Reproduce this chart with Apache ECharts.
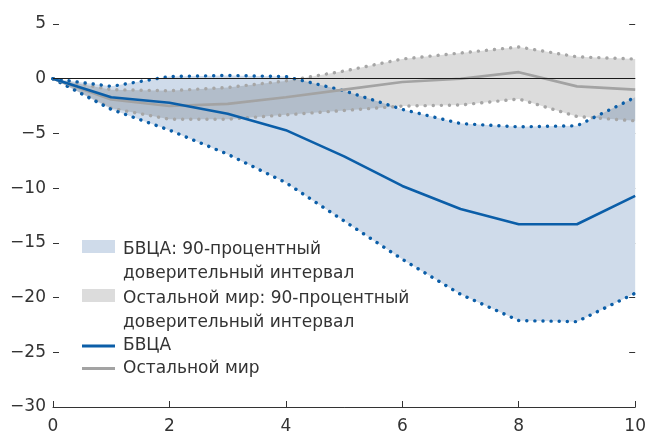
<!DOCTYPE html>
<html>
<head>
<meta charset="utf-8">
<script src="https://cdn.jsdelivr.net/npm/echarts@6/dist/echarts.min.js"></script>
<style>
html,body{margin:0;padding:0;background:#fff;}
#chart{width:649px;height:435px;}
</style>
</head>
<body>
<div id="chart"></div>
<script>
// ---- data ----
const steps = [0, 1, 2, 3, 4, 5, 6, 7, 8, 9, 10];
const usMid   = [0, -1.7, -2.2, -3.2, -4.7, -7.1, -9.8, -11.9, -13.3, -13.3, -10.7];
const usUpper = [0, -0.7, 0.2, 0.3, 0.2, -1.1, -2.8, -4.1, -4.4, -4.3, -1.7];
const usLower = [0, -2.8, -4.7, -6.9, -9.5, -13.0, -16.5, -19.7, -22.1, -22.2, -19.6];
const rowMid   = [0, -1.9, -2.5, -2.3, -1.7, -1.0, -0.3, 0.0, 0.6, -0.7, -1.0];
const rowUpper = [0, -1.0, -1.1, -0.8, -0.2, 0.7, 1.8, 2.35, 2.9, 2.0, 1.8];
const rowLower = [0, -2.7, -3.7, -3.7, -3.3, -2.9, -2.5, -2.4, -1.85, -3.45, -3.85];
const yTicks = [-30, -25, -20, -15, -10, -5, 0, 5];
const names = {
  usBand: 'БВЦА: 90-процентный\nдоверительный интервал',
  rowBand: 'Остальной мир: 90-процентный\nдоверительный интервал',
  usLine: 'БВЦА',
  rowLine: 'Остальной мир'
};

// ---- helpers ----
const diff = (a, b) => a.map((v, i) => +(v - b[i]).toFixed(4));
const FONT = 'DejaVu Sans';
const FS = 17;
const TXT = '#333';
const BLUE = '#0b5ea8';
const GREY = '#a3a3a3';
const BLUE_BAND = '#cfdbea';
const GREY_BAND = '#dcdcdc';
const fmtMinus = v => (v < 0 ? '\u2212' + Math.abs(v) : String(v));
// swatch icon: rect in the upper part of a 33x48 box (aligned with first text line)
const SWATCH = 'path://M0,0L0.01,0ZM0,2H33V15H0ZM0,48L0.01,48Z';

const dotted = (name, arr, color) => ({
  name, type: 'line', data: arr, symbol: 'none', silent: true,
  lineStyle: { color, width: 3.4, type: [0.1, 8], cap: 'round' },
  z: 3
});

const chart = echarts.init(document.getElementById('chart'), null, { renderer: 'canvas' });

const legendBase = {
  orient: 'vertical', left: 82, selectedMode: false, padding: 0, itemGap: 0,
  textStyle: { fontFamily: FONT, fontSize: FS, color: TXT, lineHeight: 24, padding: [0, 0, 0, 3] }
};

chart.setOption({
  animation: false,
  backgroundColor: '#fff',
  grid: { left: 53, right: 10, top: 24, bottom: 28, containLabel: false },
  xAxis: {
    type: 'category', data: steps.map(String), boundaryGap: false,
    axisLine: { show: true, onZero: false, lineStyle: { color: '#333', width: 1 } },
    axisTick: { show: true, inside: true, length: 6, interval: 1, lineStyle: { color: '#333' } },
    axisLabel: { fontFamily: FONT, fontSize: FS, color: TXT, margin: 11, interval: 1 },
    splitLine: { show: false }
  },
  yAxis: [
    {
      type: 'value', min: yTicks[0], max: yTicks[yTicks.length - 1], interval: 5,
      axisLine: { show: false },
      axisTick: { show: true, inside: true, length: 6, lineStyle: { color: '#333' } },
      axisLabel: { fontFamily: FONT, fontSize: FS, color: TXT, margin: 7, formatter: fmtMinus },
      splitLine: { show: false }
    },
    {
      type: 'value', position: 'right', min: yTicks[0], max: yTicks[yTicks.length - 1], interval: 5,
      axisLine: { show: false },
      axisTick: { show: true, inside: true, length: 6, lineStyle: { color: '#333' } },
      axisLabel: { show: false },
      splitLine: { show: false }
    }
  ],
  legend: [
    Object.assign({}, legendBase, {
      top: 238, itemWidth: 33, itemHeight: 48,
      data: [{ name: names.usBand, icon: SWATCH, itemStyle: { color: BLUE_BAND, borderWidth: 0 } }]
    }),
    Object.assign({}, legendBase, {
      top: 287, itemWidth: 33, itemHeight: 48,
      data: [{ name: names.rowBand, icon: SWATCH, itemStyle: { color: GREY_BAND, borderWidth: 0 } }]
    }),
    Object.assign({}, legendBase, {
      top: 334, itemWidth: 33, itemHeight: 3,
      data: [{ name: names.usLine, icon: 'rect', itemStyle: { color: BLUE, borderWidth: 0 } }]
    }),
    Object.assign({}, legendBase, {
      top: 356.5, itemWidth: 33, itemHeight: 3,
      data: [{ name: names.rowLine, icon: 'rect', itemStyle: { color: GREY, borderWidth: 0 } }]
    })
  ],
  series: [
    {
      name: 'usBase', type: 'line', data: usLower, stack: 'us', stackStrategy: 'all',
      symbol: 'none', silent: true, lineStyle: { width: 0 }, z: 1,
      markLine: {
        silent: true, symbol: ['none', 'none'], label: { show: false },
        lineStyle: { color: '#1a1a1a', width: 1, type: 'solid' },
        data: [{ yAxis: 0 }], animation: false
      }
    },
    {
      name: names.usBand, type: 'line', data: diff(usUpper, usLower), stack: 'us', stackStrategy: 'all',
      symbol: 'none', silent: true, itemStyle: { color: BLUE_BAND },
      lineStyle: { width: 0 }, areaStyle: { color: BLUE_BAND, opacity: 1 }, z: 1
    },
    {
      name: 'rowBase', type: 'line', data: rowLower, stack: 'row', stackStrategy: 'all',
      symbol: 'none', silent: true, lineStyle: { width: 0 }, z: 1
    },
    {
      name: names.rowBand, type: 'line', data: diff(rowUpper, rowLower), stack: 'row', stackStrategy: 'all',
      symbol: 'none', silent: true, itemStyle: { color: GREY_BAND }, blendMode: 'multiply',
      lineStyle: { width: 0 }, areaStyle: { color: GREY_BAND, opacity: 1 }, z: 1
    },
    dotted('rowUpper', rowUpper, '#a6a6a6'),
    dotted('rowLower', rowLower, '#a6a6a6'),
    dotted('usUpper', usUpper, BLUE),
    dotted('usLower', usLower, BLUE),
    {
      name: names.rowLine, type: 'line', data: rowMid, symbol: 'none', silent: true,
      itemStyle: { color: GREY }, lineStyle: { color: GREY, width: 2.6 }, z: 4
    },
    {
      name: names.usLine, type: 'line', data: usMid, symbol: 'none', silent: true,
      itemStyle: { color: BLUE }, lineStyle: { color: BLUE, width: 2.6 }, z: 4
    }
  ]
});
</script>
</body>
</html>
